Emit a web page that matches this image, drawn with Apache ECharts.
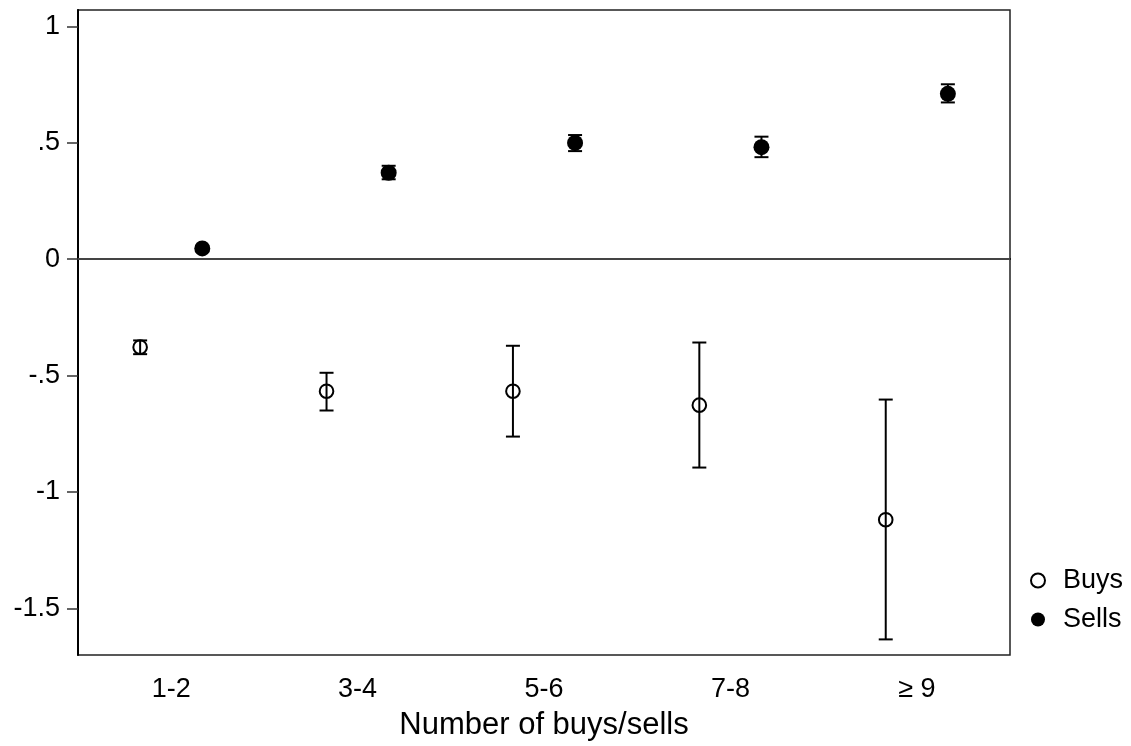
<!DOCTYPE html>
<html>
<head>
<meta charset="utf-8">
<style>
  html, body { margin: 0; padding: 0; background: #fff; }
  #chart { width: 1131px; height: 746px; }
</style>
<script src="https://cdn.jsdelivr.net/npm/echarts@6/dist/echarts.min.js"></script>
</head>
<body>
<div id="chart"></div>
<script>
const categories = ['1-2', '3-4', '5-6', '7-8', '\u2265 9'];
const buysMean = [-0.378, -0.567, -0.567, -0.627, -1.119];
const buysLow  = [-0.408, -0.650, -0.762, -0.895, -1.633];
const buysHigh = [-0.349, -0.488, -0.372, -0.358, -0.603];
const sellsMean = [0.046, 0.371, 0.499, 0.481, 0.710];
const sellsLow  = [0.036, 0.343, 0.464, 0.438, 0.673];
const sellsHigh = [0.056, 0.401, 0.533, 0.526, 0.751];
const yTicks = [-1.5, -1, -0.5, 0, 0.5, 1];

const FONT = '"Liberation Sans", Arial, sans-serif';

function fmt(v) {
  if (v === 0) return '0';
  let s = String(v);
  s = s.replace(/^0\./, '.').replace(/^-0\./, '-.');
  return s;
}

function rows(mean, low, high) {
  return mean.map((m, i) => [i, m, low[i], high[i]]);
}

function makeRender(side, filled) {
  return function (params, api) {
    const i = api.value(0);
    const c = api.coord([i, api.value(1)]);
    const lo = api.coord([i, api.value(2)]);
    const hi = api.coord([i, api.value(3)]);
    const band = api.size([1, 0])[0];
    const x = c[0] + side * band / 6;
    const capHalf = 7;
    const stroke = { stroke: '#000', lineWidth: 2 };
    return {
      type: 'group',
      children: [
        { type: 'line', shape: { x1: x, y1: hi[1], x2: x, y2: lo[1] }, style: stroke },
        { type: 'line', shape: { x1: x - capHalf, y1: hi[1], x2: x + capHalf, y2: hi[1] }, style: stroke },
        { type: 'line', shape: { x1: x - capHalf, y1: lo[1], x2: x + capHalf, y2: lo[1] }, style: stroke },
        filled
          ? { type: 'circle', shape: { cx: x, cy: c[1], r: 8 }, style: { fill: '#000' } }
          : { type: 'circle', shape: { cx: x, cy: c[1], r: 6.8 }, style: { fill: 'none', stroke: '#000', lineWidth: 2 } }
      ]
    };
  };
}

const chart = echarts.init(document.getElementById('chart'), null, { renderer: 'canvas' });
chart.setOption({
  animation: false,
  backgroundColor: '#fff',
  textStyle: { fontFamily: FONT, color: '#000' },
  grid: {
    left: 78, right: 121, top: 10, bottom: 91,
    show: true, borderColor: '#222', borderWidth: 1.5, containLabel: false
  },
  legend: {
    orient: 'vertical',
    left: 1030, top: 567,
    padding: 0,
    itemGap: 12,
    itemWidth: 14, itemHeight: 14,
    textStyle: { fontFamily: FONT, fontSize: 27, color: '#000', lineHeight: 27, padding: [0, 0, 0, 13] },
    data: [
      { name: 'Buys', icon: 'circle', itemStyle: { color: '#fff', borderColor: '#000', borderWidth: 2 } },
      { name: 'Sells', icon: 'circle', itemStyle: { color: '#000', borderWidth: 0 } }
    ]
  },
  xAxis: {
    type: 'category',
    data: categories,
    boundaryGap: true,
    axisLine: { lineStyle: { color: '#000', width: 2 } },
    axisTick: { alignWithLabel: true, length: 11, lineStyle: { color: '#333', width: 1.5 } },
    axisLabel: { fontFamily: FONT, fontSize: 27, color: '#000', margin: 21 },
    splitLine: { show: false },
    name: 'Number of buys/sells',
    nameLocation: 'middle',
    nameGap: 55,
    nameTextStyle: { fontFamily: FONT, fontSize: 31, color: '#000' }
  },
  yAxis: {
    type: 'value',
    min: -1.70, max: 1.07,
    axisLine: { show: true, lineStyle: { color: '#000', width: 2 } },
    axisTick: { show: true, length: 11, customValues: yTicks, lineStyle: { color: '#333', width: 1.5 } },
    axisLabel: { fontFamily: FONT, fontSize: 27, color: '#000', margin: 18, customValues: yTicks, formatter: fmt },
    splitLine: { show: false }
  },
  series: [
    {
      name: 'Buys',
      type: 'custom',
      renderItem: makeRender(-1, false),
      encode: { x: 0, y: [1, 2, 3] },
      data: rows(buysMean, buysLow, buysHigh),
      z: 3
    },
    {
      name: 'Sells',
      type: 'custom',
      renderItem: makeRender(1, true),
      encode: { x: 0, y: [1, 2, 3] },
      data: rows(sellsMean, sellsLow, sellsHigh),
      z: 3,
      markLine: {
        silent: true,
        symbol: 'none',
        label: { show: false },
        lineStyle: { color: '#444', width: 2, type: 'solid' },
        data: [{ yAxis: 0 }],
        z: 2
      }
    }
  ]
});
</script>
</body>
</html>
